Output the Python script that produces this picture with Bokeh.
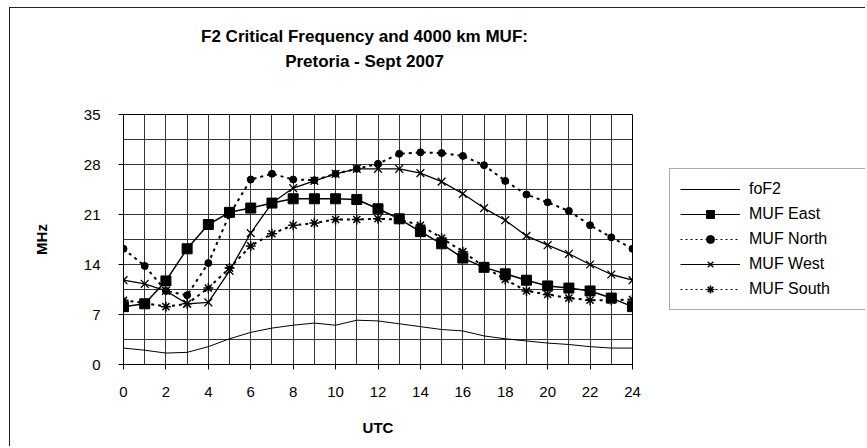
from bokeh.plotting import figure
from bokeh.models import Range1d, SingleIntervalTicker, Legend, LegendItem, Label, Spacer
from bokeh.layouts import row, column
from bokeh.embed import file_html
from bokeh.resources import INLINE

title_line1 = "F2 Critical Frequency and 4000 km MUF:"
title_line2 = "Pretoria - Sept 2007"
x_label = "UTC"
y_label = "MHz"

hours = list(range(25))
fof2 = [2.3, 2.0, 1.6, 1.7, 2.5, 3.6, 4.5, 5.1, 5.5, 5.8, 5.5, 6.2, 6.1,
        5.7, 5.3, 4.9, 4.7, 4.0, 3.6, 3.3, 3.0, 2.8, 2.5, 2.3, 2.3]
muf_east = [8.1, 8.5, 11.7, 16.2, 19.6, 21.3, 21.9, 22.6, 23.2, 23.2, 23.2, 23.1, 21.8,
            20.4, 18.6, 16.9, 14.9, 13.6, 12.7, 11.8, 11.0, 10.7, 10.3, 9.3, 8.1]
muf_north = [16.2, 13.8, 10.3, 9.7, 14.2, 21.0, 25.9, 26.7, 25.9, 25.8, 26.7, 27.4, 28.1,
             29.5, 29.7, 29.6, 29.2, 27.9, 25.7, 23.8, 22.7, 21.5, 19.5, 17.8, 16.2]
muf_west = [11.8, 11.3, 10.3, 8.5, 8.7, 13.1, 18.4, 22.6, 24.7, 25.7, 26.7, 27.4, 27.4,
            27.4, 26.8, 25.6, 23.9, 21.9, 20.2, 18.0, 16.7, 15.5, 14.0, 12.6, 11.8]
muf_south = [9.0, 8.6, 8.1, 8.5, 10.7, 13.5, 16.6, 18.3, 19.5, 19.8, 20.3, 20.3, 20.4,
             20.3, 19.5, 17.7, 15.8, 13.7, 11.9, 10.3, 9.8, 9.3, 9.0, 9.0, 9.1]
series_names = ["foF2", "MUF East", "MUF North", "MUF West", "MUF South"]

FONT = "Liberation Sans"
INK = "black"

# ---------- title strip ----------
tfig = figure(width=855, height=96, output_backend="svg", toolbar_location=None,
              x_range=Range1d(0, 1), y_range=Range1d(0, 1),
              x_axis_location=None, y_axis_location=None, min_border=0,
              background_fill_color="white", border_fill_color="white")
tfig.outline_line_color = None
tfig.grid.visible = False
tfig.add_layout(Label(x=354, y=68, x_units="screen", y_units="screen", text=title_line1,
                      text_align="center", text_baseline="middle", text_font=FONT,
                      text_font_size="17px", text_font_style="bold", text_color=INK))
tfig.add_layout(Label(x=354, y=43, x_units="screen", y_units="screen", text=title_line2,
                      text_align="center", text_baseline="middle", text_font=FONT,
                      text_font_size="17px", text_font_style="bold", text_color=INK))

# ---------- main chart ----------
p = figure(width=632, height=342, output_backend="svg", toolbar_location=None,
           x_range=Range1d(0, 24), y_range=Range1d(0, 35),
           min_border_left=113, min_border_right=10, min_border_top=10, min_border_bottom=82,
           background_fill_color="white", border_fill_color="white")
p.outline_line_color = "black"
p.outline_line_width = 1

p.xgrid.ticker = SingleIntervalTicker(interval=1)
p.ygrid.ticker = SingleIntervalTicker(interval=3.5)
for g in (p.xgrid, p.ygrid):
    g.grid_line_color = "#333333"
    g.grid_line_width = 1

p.xaxis.ticker = SingleIntervalTicker(interval=2)
p.yaxis.ticker = SingleIntervalTicker(interval=7)
for ax in (p.xaxis, p.yaxis):
    ax.axis_line_color = "black"
    ax.major_tick_line_color = "black"
    ax.major_tick_out = 5
    ax.major_tick_in = 0
    ax.minor_tick_line_color = None
    ax.major_label_text_font = FONT
    ax.major_label_text_font_size = "15px"
    ax.major_label_text_color = INK
    ax.axis_label_text_font = FONT
    ax.axis_label_text_font_size = "15px"
    ax.axis_label_text_font_style = "bold"
    ax.axis_label_text_color = INK
p.xaxis.axis_label = x_label
p.yaxis.axis_label = y_label
p.xaxis.major_label_standoff = 17
p.xaxis.axis_label_standoff = 19
p.yaxis.major_label_standoff = 18
p.yaxis.axis_label_standoff = 31

styles = {
    "fo": dict(line=dict(line_color=INK, line_width=1), marker=None),
    "east": dict(line=dict(line_color=INK, line_width=1.5),
                 marker=dict(marker="square", fill_color=INK, line_color=INK)),
    "north": dict(line=dict(line_color=INK, line_width=2, line_dash="3 4"),
                  marker=dict(marker="circle", fill_color=INK, line_color=INK)),
    "west": dict(line=dict(line_color=INK, line_width=1.3),
                 marker=dict(marker="x", line_color=INK, line_width=1.3)),
    "south": dict(line=dict(line_color=INK, line_width=2, line_dash="3 4"),
                  marker=dict(marker="asterisk", line_color=INK, line_width=1.5)),
}
chart_sizes = {"east": 10, "north": 7, "west": 11, "south": 10}
legend_sizes = {"east": 8, "north": 6, "west": 8, "south": 8}
legend_dash = {"north": "2 3", "south": "2 3"}

series = [("fo", fof2), ("east", muf_east), ("north", muf_north),
          ("west", muf_west), ("south", muf_south)]
for key, vals in series:
    st = styles[key]
    p.line(hours, vals, **st["line"])
    if st["marker"] is not None:
        p.scatter(hours, vals, size=chart_sizes[key], **st["marker"])

# ---------- legend panel (its glyphs are kept outside its view range) ----------
p2 = figure(width=223, height=342, output_backend="svg", toolbar_location=None,
            x_range=Range1d(-20, -10), y_range=Range1d(-20, -10),
            x_axis_location=None, y_axis_location=None, min_border=0,
            background_fill_color="white", border_fill_color="white")
p2.outline_line_color = None
p2.grid.visible = False
items = []
for (key, vals), name in zip(series, series_names):
    st = styles[key]
    lkw = dict(st["line"])
    lkw["line_width"] = 1
    if key in legend_dash:
        lkw["line_dash"] = legend_dash[key]
    rs = [p2.line(hours, vals, **lkw)]
    if st["marker"] is not None:
        rs.append(p2.scatter(hours, vals, size=legend_sizes[key], **st["marker"]))
    items.append(LegendItem(label=name, renderers=rs))

legend = Legend(items=items, location=(27, 54), glyph_width=60, glyph_height=20,
                label_width=110, label_height=20, spacing=5, padding=10, margin=0,
                label_standoff=9, border_line_color="#555555", border_line_width=1,
                label_text_font=FONT, label_text_font_size="16px", label_text_color=INK,
                background_fill_color="white")
p2.add_layout(legend, "center")

# ---------- outer chart-area border on left/top ----------
BORDER = {"background-color": "#222222"}
layout = row(
    Spacer(width=9, height=446),
    column(
        Spacer(width=856, height=7),
        Spacer(width=856, height=1, styles=BORDER),
        row(
            Spacer(width=1, height=438, styles=BORDER),
            column(tfig, row(p, p2)),
        ),
    ),
)

open("out.html", "w").write(file_html(layout, INLINE))
